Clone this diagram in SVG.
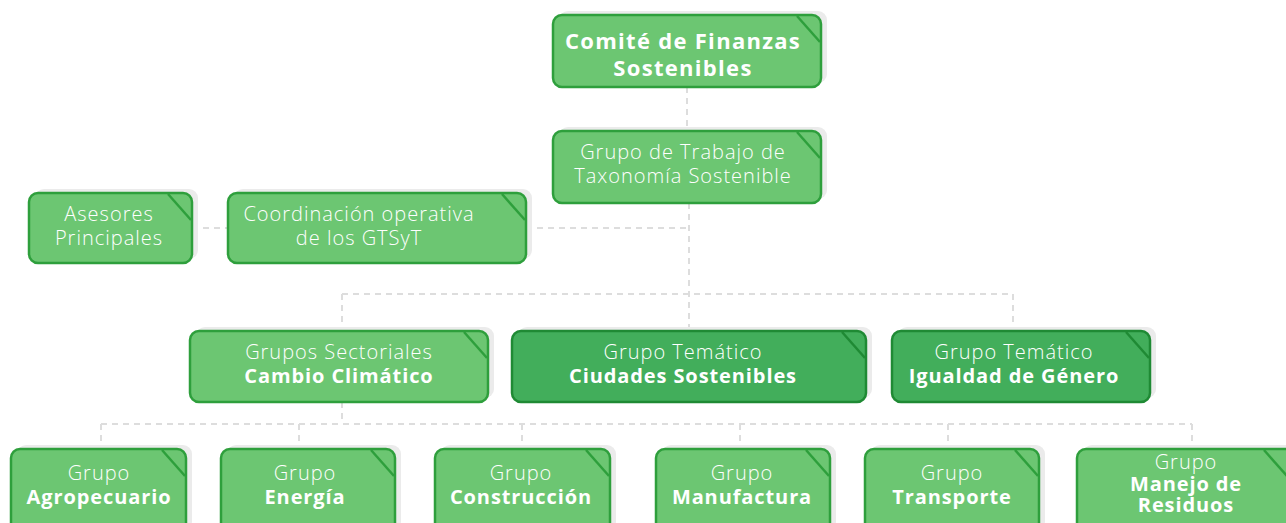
<svg xmlns="http://www.w3.org/2000/svg" width="1286" height="523" viewBox="0 0 1286 523">
<style>
.sh{fill:#ebebeb}
.bx{fill:#6cc672;stroke:#2e9f3c;stroke-width:2.5}
.bxd{fill:#42ae5b;stroke:#1f8a34;stroke-width:2.5}
.fold{stroke:#2e9f3c;stroke-width:2.5;fill:none}
.foldd{stroke:#1f8a34;stroke-width:2.5;fill:none}
text{font-family:"Open Sans","Liberation Sans",sans-serif;fill:#ffffff;text-anchor:middle}
.l{font-weight:300;font-size:20px;letter-spacing:1px}
.b{font-weight:700;font-size:20px;letter-spacing:0.9px}
.bt{font-weight:700;font-size:22px;letter-spacing:1.3px}
.con{stroke:#dddddd;stroke-width:2;stroke-dasharray:6 5;fill:none}
</style>
<g id="connectors">
<path class="con" d="M687 87V131"/>
<path class="con" d="M689 203V331"/>
<path class="con" d="M192 228H228"/>
<path class="con" d="M526 228H689"/>
<path class="con" d="M342 294H1013"/>
<path class="con" d="M342 294V331"/>
<path class="con" d="M1013 294V331"/>
<path class="con" d="M342 402V424"/>
<path class="con" d="M101 424H1192"/>
<path class="con" d="M101 424V449"/>
<path class="con" d="M299 424V449"/>
<path class="con" d="M522 424V449"/>
<path class="con" d="M740 424V449"/>
<path class="con" d="M948 424V449"/>
<path class="con" d="M1192 424V449"/>
</g>
<g id="comite">
<rect class="sh" x="559" y="11" width="268" height="72" rx="9"/>
<rect class="bx" x="553" y="15" width="268" height="72" rx="9"/>
<path class="fold" d="M797 16L820 42"/>
<text class="bt" x="683" y="49">Comité de Finanzas</text>
<text class="bt" x="683" y="76">Sostenibles</text>
</g>
<g id="grupo-trabajo">
<rect class="sh" x="559" y="127" width="268" height="72" rx="9"/>
<rect class="bx" x="553" y="131" width="268" height="72" rx="9"/>
<path class="fold" d="M797 132L820 158"/>
<text class="l" x="683" y="159">Grupo de Trabajo de</text>
<text class="l" x="683" y="183">Taxonomía Sostenible</text>
</g>
<g id="asesores">
<rect class="sh" x="35" y="189" width="163" height="70" rx="9"/>
<rect class="bx" x="29" y="193" width="163" height="70" rx="9"/>
<path class="fold" d="M168 194L191 220"/>
<text class="l" x="109" y="221">Asesores</text>
<text class="l" x="109" y="245">Principales</text>
</g>
<g id="coordinacion">
<rect class="sh" x="234" y="189" width="298" height="70" rx="9"/>
<rect class="bx" x="228" y="193" width="298" height="70" rx="9"/>
<path class="fold" d="M502 194L525 220"/>
<text class="l" x="359" y="221">Coordinación operativa</text>
<text class="l" x="359" y="245">de los GTSyT</text>
</g>
<g id="cambio-climatico">
<rect class="sh" x="196" y="327" width="298" height="71" rx="9"/>
<rect class="bx" x="190" y="331" width="298" height="71" rx="9"/>
<path class="fold" d="M464 332L487 358"/>
<text class="l" x="339" y="359">Grupos Sectoriales</text>
<text class="b" x="339" y="383">Cambio Climático</text>
</g>
<g id="ciudades">
<rect class="sh" x="518" y="327" width="354" height="71" rx="9"/>
<rect class="bxd" x="512" y="331" width="354" height="71" rx="9"/>
<path class="foldd" d="M842 332L865 358"/>
<text class="l" x="683" y="359">Grupo Temático</text>
<text class="b" x="683" y="383">Ciudades Sostenibles</text>
</g>
<g id="igualdad">
<rect class="sh" x="898" y="327" width="258" height="71" rx="9"/>
<rect class="bxd" x="892" y="331" width="258" height="71" rx="9"/>
<path class="foldd" d="M1126 332L1149 358"/>
<text class="l" x="1014" y="359">Grupo Temático</text>
<text class="b" x="1014" y="383">Igualdad de Género</text>
</g>
<g id="agropecuario">
<rect class="sh" x="17" y="445" width="175" height="85" rx="9"/>
<rect class="bx" x="11" y="449" width="175" height="85" rx="9"/>
<path class="fold" d="M162 450L185 476"/>
<text class="l" x="99" y="480">Grupo</text>
<text class="b" x="99" y="504">Agropecuario</text>
</g>
<g id="energia">
<rect class="sh" x="227" y="445" width="174" height="85" rx="9"/>
<rect class="bx" x="221" y="449" width="174" height="85" rx="9"/>
<path class="fold" d="M371 450L394 476"/>
<text class="l" x="305" y="480">Grupo</text>
<text class="b" x="305" y="504">Energía</text>
</g>
<g id="construccion">
<rect class="sh" x="441" y="445" width="175" height="85" rx="9"/>
<rect class="bx" x="435" y="449" width="175" height="85" rx="9"/>
<path class="fold" d="M586 450L609 476"/>
<text class="l" x="521" y="480">Grupo</text>
<text class="b" x="521" y="504">Construcción</text>
</g>
<g id="manufactura">
<rect class="sh" x="662" y="445" width="174" height="85" rx="9"/>
<rect class="bx" x="656" y="449" width="174" height="85" rx="9"/>
<path class="fold" d="M806 450L829 476"/>
<text class="l" x="742" y="480">Grupo</text>
<text class="b" x="742" y="504">Manufactura</text>
</g>
<g id="transporte">
<rect class="sh" x="871" y="445" width="174" height="85" rx="9"/>
<rect class="bx" x="865" y="449" width="174" height="85" rx="9"/>
<path class="fold" d="M1015 450L1038 476"/>
<text class="l" x="952" y="480">Grupo</text>
<text class="b" x="952" y="504">Transporte</text>
</g>
<g id="manejo">
<rect class="sh" x="1083" y="445" width="218" height="85" rx="9"/>
<rect class="bx" x="1077" y="449" width="218" height="85" rx="9"/>
<path class="fold" d="M1264 450L1287 476"/>
<text class="l" x="1186" y="469">Grupo</text>
<text class="b" x="1186" y="491">Manejo de</text>
<text class="b" x="1186" y="512">Residuos</text>
</g>
</svg>
